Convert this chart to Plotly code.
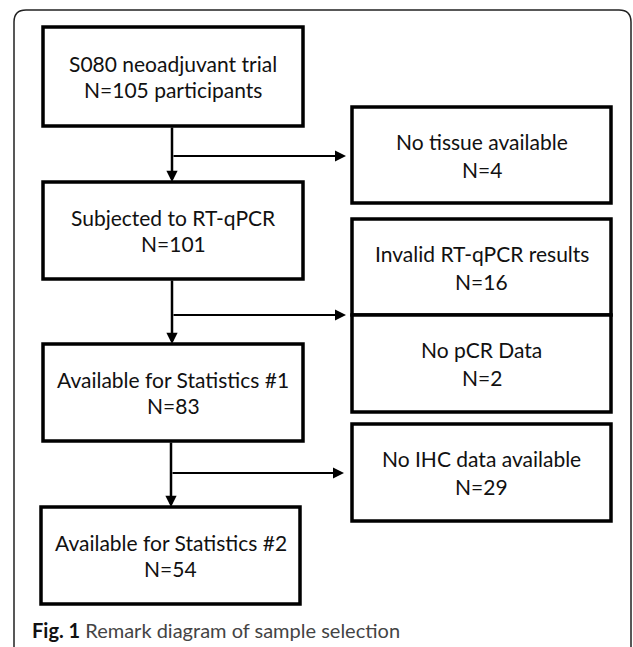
import plotly.graph_objects as go

# ---- data ----
main_labels = ["S080 neoadjuvant trial", "Subjected to RT-qPCR",
               "Available for Statistics #1", "Available for Statistics #2"]
main_counts = ["N=105 participants", "N=101", "N=83", "N=54"]
excl_labels = ["No tissue available", "Invalid RT-qPCR results",
               "No pCR Data", "No IHC data available"]
excl_counts = [4, 16, 2, 29]
caption_bold = "Fig. 1"
caption_text = "Remark diagram of sample selection"

# ---- layout geometry (pixels) ----
W, H = 633, 647
main_boxes = [(43, 27, 303, 126), (43, 182, 303, 279), (43, 344, 303, 441), (41, 507, 300, 604)]
excl_boxes = [(352, 107, 611, 203), (352, 219, 611, 315), (352, 315, 611, 412), (352, 424, 611, 521)]
branch_y = [156, 315, 473]
stem_x = [172, 172, 171]
arrow_end_x = [346, 346, 344]

FONT = "Lato"
FS = 21
fig = go.Figure()
shapes = []
annotations = []

# outer frame
shapes.append(dict(type="path",
                   path="M 14,660 L 14,22 Q 14,10 26,10 L 619,10 Q 631,10 631,22 L 631,660",
                   line=dict(color="#222", width=1.5)))

def box(b, w=3.5):
    shapes.append(dict(type="rect", x0=b[0], y0=b[1], x1=b[2], y1=b[3],
                       line=dict(color="black", width=w), fillcolor="white"))

def two_lines(b, l1, l2, dy=14):
    cx = (b[0] + b[2]) / 2
    cy = (b[1] + b[3]) / 2
    for txt, y in ((l1, cy - dy), (l2, cy + dy)):
        annotations.append(dict(x=cx, y=y, text=txt, showarrow=False, xanchor="center",
                                yanchor="middle", font=dict(family=FONT, size=FS, color="#111")))

# connectors
for i in range(3):
    top = main_boxes[i][3]
    bot = main_boxes[i + 1][1]
    annotations.append(dict(x=stem_x[i], y=bot, ax=stem_x[i], ay=top, xref="x", yref="y",
                            axref="x", ayref="y", text="", showarrow=True, arrowhead=2,
                            arrowsize=0.9, arrowwidth=2.5, arrowcolor="black", standoff=0))
    annotations.append(dict(x=arrow_end_x[i], y=branch_y[i], ax=stem_x[i], ay=branch_y[i],
                            xref="x", yref="y", axref="x", ayref="y", text="", showarrow=True,
                            arrowhead=2, arrowsize=1.1, arrowwidth=2, arrowcolor="black", standoff=0))

for b, l, c in zip(main_boxes, main_labels, main_counts):
    box(b)
    two_lines(b, l, c, dy=13)
for b, l, c in zip(excl_boxes, excl_labels, excl_counts):
    box(b)
    two_lines(b, l, f"N={c}", dy=14)

annotations.append(dict(x=30, y=630, xanchor="left", yanchor="middle", showarrow=False,
                        text=f"<b><span style='color:#111'>{caption_bold}</span></b> {caption_text}",
                        font=dict(family=FONT, size=20, color="#444")))

fig.update_layout(width=W, height=H, margin=dict(l=0, r=0, t=0, b=0),
                  plot_bgcolor="white", paper_bgcolor="white",
                  xaxis=dict(range=[0, W], visible=False, fixedrange=True),
                  yaxis=dict(range=[H, 0], visible=False, fixedrange=True),
                  shapes=shapes, annotations=annotations, showlegend=False)
fig.write_html("out.html", config={"displayModeBar": False},
               post_script="document.body.style.margin='0';document.body.style.overflow='hidden';")
